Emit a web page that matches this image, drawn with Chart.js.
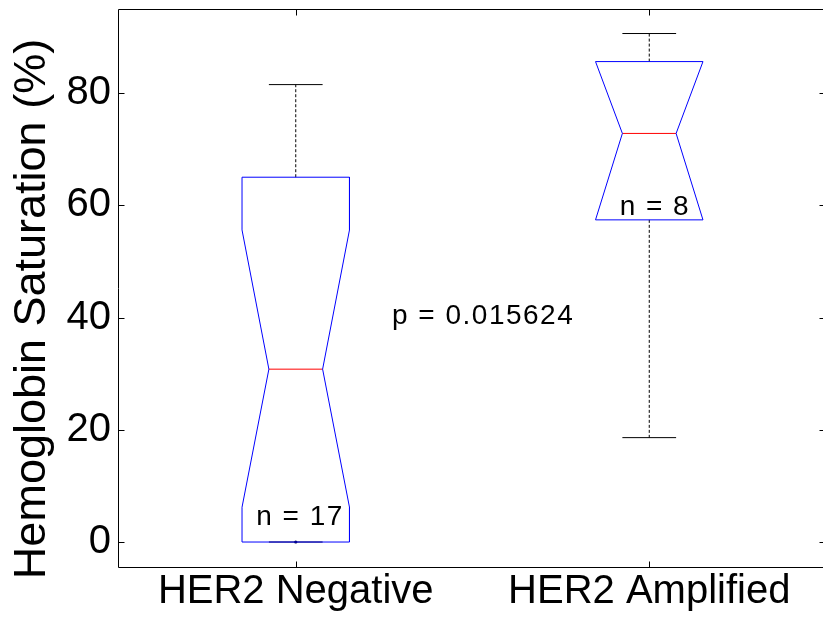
<!DOCTYPE html>
<html>
<head>
<meta charset="utf-8">
<script src="https://cdn.jsdelivr.net/npm/chart.js@4/dist/chart.umd.min.js"></script>
<style>
  html, body { margin: 0; padding: 0; background: #fff; overflow: hidden; }
  canvas { display: block; }
</style>
</head>
<body>
<canvas id="c" width="830" height="620"></canvas>
<script>
// Hemoglobin saturation by HER2 status (notched box plots)
const categories  = ['HER2 Negative', 'HER2 Amplified'];
const counts      = [17, 8];
const whiskerLow  = [0.0, 18.6];
const q1          = [0.0, 57.4];
const notchLow    = [6.2, 57.4];
const median      = [30.8, 72.8];
const notchHigh   = [55.6, 85.6];
const q3          = [65.0, 85.6];
const whiskerHigh = [81.5, 90.6];
const minMarks    = [[0.0], []];
const pValue      = '0.015624';
const yTicks      = [0, 20, 40, 60, 80];

const FONT = '"Liberation Sans", Arial, Helvetica, sans-serif';
const HALF = 0.152;          // half box width, in category units
const GAP = null;

function outline(i) {
  const c = i + 1;
  return [
    {x: c - HALF, y: q1[i]}, {x: c - HALF, y: notchLow[i]}, {x: c - HALF / 2, y: median[i]},
    {x: c - HALF, y: notchHigh[i]}, {x: c - HALF, y: q3[i]},
    {x: c + HALF, y: q3[i]}, {x: c + HALF, y: notchHigh[i]}, {x: c + HALF / 2, y: median[i]},
    {x: c + HALF, y: notchLow[i]}, {x: c + HALF, y: q1[i]}, {x: c - HALF, y: q1[i]}
  ];
}
function medianLine(i) {
  const c = i + 1;
  return [{x: c - HALF / 2, y: median[i]}, {x: c + HALF / 2, y: median[i]}];
}
function whiskers(i) {
  const c = i + 1;
  return [{x: c, y: q3[i]}, {x: c, y: whiskerHigh[i]}, {x: c, y: GAP},
          {x: c, y: q1[i]}, {x: c, y: whiskerLow[i]}];
}
function caps(i) {
  const c = i + 1;
  return [{x: c - HALF / 2, y: whiskerHigh[i]}, {x: c + HALF / 2, y: whiskerHigh[i]}, {x: c, y: GAP},
          {x: c - HALF / 2, y: whiskerLow[i]}, {x: c + HALF / 2, y: whiskerLow[i]}];
}

const lineSet = (data, color, dash) => ({
  data, showLine: true, spanGaps: false, borderColor: color, borderWidth: 1,
  borderDash: dash || [], pointRadius: 0, fill: false, tension: 0
});

const datasets = [];
categories.forEach((_, i) => {
  datasets.push(lineSet(outline(i), '#0000ff'));
  datasets.push(lineSet(medianLine(i), '#ff0000'));
});
datasets.push({
  data: minMarks.flatMap((vals, i) => vals.map(v => ({x: i + 1, y: v}))),
  showLine: false, pointRadius: 1.6, pointBackgroundColor: '#000033', pointBorderWidth: 0
});
categories.forEach((_, i) => {
  datasets.push(lineSet(whiskers(i), '#000000', [3, 2]));
  datasets.push(lineSet(caps(i), '#000000'));
});

// Frame with inward tick marks, the rotated y title and the text notes
const decorations = {
  id: 'decorations',
  afterDraw(chart) {
    const {ctx, chartArea: a, scales: {x, y}} = chart;
    const L = a.left - 0.5, R = a.right - 0.5, T = a.top + 0.5, B = a.bottom + 0.5;
    const TICK = 6;
    ctx.save();
    ctx.strokeStyle = '#000';
    ctx.lineWidth = 1;
    ctx.beginPath();
    ctx.rect(L, T, R - L, B - T);
    yTicks.forEach(v => {
      const py = Math.round(y.getPixelForValue(v)) + 0.5;
      ctx.moveTo(L, py); ctx.lineTo(L + TICK, py);
      ctx.moveTo(R, py); ctx.lineTo(R - TICK, py);
    });
    categories.forEach((_, i) => {
      const px = Math.round(x.getPixelForValue(i + 1)) + 0.5;
      ctx.moveTo(px, B); ctx.lineTo(px, B - TICK);
      ctx.moveTo(px, T); ctx.lineTo(px, T + TICK);
    });
    ctx.stroke();

    // y axis title
    ctx.fillStyle = '#000';
    ctx.font = '45px ' + FONT;
    ctx.textAlign = 'center';
    ctx.textBaseline = 'alphabetic';
    ctx.save();
    ctx.translate(45, (a.top + a.bottom) / 2 + 21);
    ctx.rotate(-Math.PI / 2);
    ctx.fillText('Hemoglobin Saturation (%)', 0, 0);
    ctx.restore();

    // sample sizes and p-value
    ctx.font = '28px ' + FONT;
    ctx.letterSpacing = '1.5px';
    const notes = [
      {text: 'n = ' + counts[0], x: 1.012, y: 3.0},
      {text: 'n = ' + counts[1], x: 2.016, y: 58.3},
      {text: 'p = ' + pValue,    x: 1.530, y: 38.8}
    ];
    notes.forEach(n => ctx.fillText(n.text, x.getPixelForValue(n.x), y.getPixelForValue(n.y)));
    ctx.restore();
  }
};

new Chart(document.getElementById('c'), {
  type: 'scatter',
  data: {datasets},
  plugins: [decorations],
  options: {
    responsive: false,
    animation: false,
    events: [],
    layout: {padding: {top: 9, right: 4, left: 0, bottom: 0}},
    plugins: {legend: {display: false}, tooltip: {enabled: false}},
    scales: {
      x: {
        type: 'linear', min: 0.5, max: 2.5,
        afterBuildTicks: s => { s.ticks = categories.map((_, i) => ({value: i + 1})); },
        afterFit: s => { s.height = 53; s.paddingLeft = 0; s.paddingRight = 0; },
        ticks: {
          callback: v => categories[v - 1],
          font: {size: 40, family: FONT}, color: '#000',
          padding: 1, maxRotation: 0, autoSkip: false
        },
        grid: {display: false, drawTicks: false},
        border: {display: false}
      },
      y: {
        min: -4.45, max: 94.97,
        afterBuildTicks: s => { s.ticks = yTicks.map(v => ({value: v})); },
        afterFit: s => { s.width = 119; s.paddingTop = 0; s.paddingBottom = 0; },
        ticks: {font: {size: 40, family: FONT}, color: '#000', padding: 8, autoSkip: false},
        grid: {display: false, drawTicks: false},
        border: {display: false}
      }
    }
  }
});
</script>
</body>
</html>
